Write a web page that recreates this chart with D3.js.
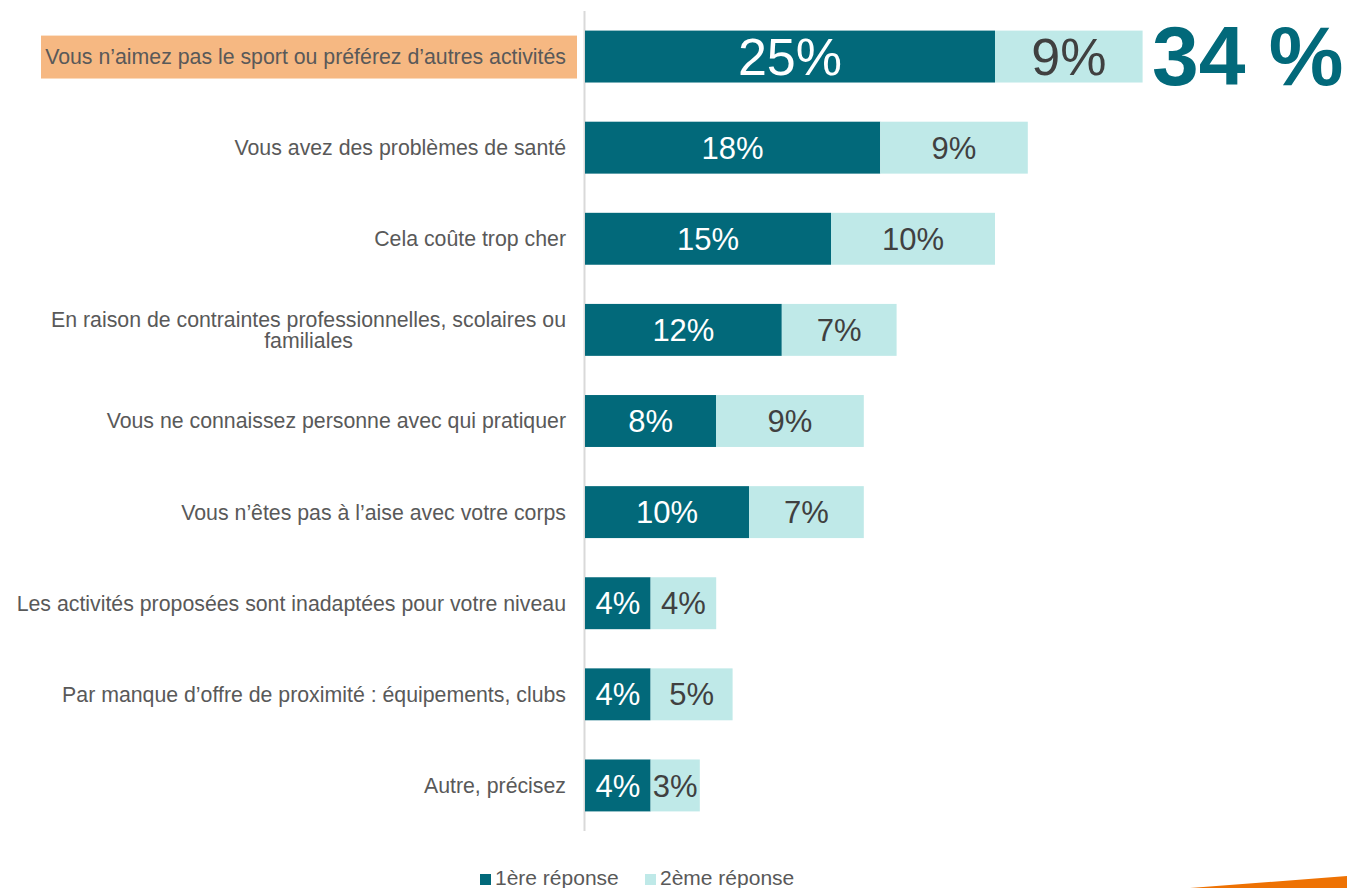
<!DOCTYPE html>
<html lang="fr">
<head>
<meta charset="utf-8">
<title>Raisons de non-pratique</title>
<script src="https://cdn.jsdelivr.net/npm/d3@7"></script>
<style>
  body { margin: 0; background: #fff; font-family: 'Liberation Sans', Arial, sans-serif; }
  svg { display: block; }
</style>
</head>
<body>
<div id="chart"></div>
<script>

/* Data */
/* ==== */

var categories = [
  ['Vous n\u2019aimez pas le sport ou préférez d\u2019autres activités'],
  ['Vous avez des problèmes de santé'],
  ['Cela coûte trop cher'],
  ['En raison de contraintes professionnelles, scolaires ou', 'familiales'],
  ['Vous ne connaissez personne avec qui pratiquer'],
  ['Vous n\u2019êtes pas à l\u2019aise avec votre corps'],
  ['Les activités proposées sont inadaptées pour votre niveau'],
  ['Par manque d\u2019offre de proximité : équipements, clubs'],
  ['Autre, précisez']
];
var first = [25, 18, 15, 12, 8, 10, 4, 4, 4];
var second = [9, 9, 10, 7, 9, 7, 4, 5, 3];
var seriesNames = ['1ère réponse', '2ème réponse'];
var highlightTotal = '34 %';

/* Setup */
/* ===== */

var width = 1347, height = 888;
var dark = '#02697a', light = '#bfe9e8';
var labelSize = '21.3px';

var svg = d3.select('#chart').append('svg')
    .attr('width', width)
    .attr('height', height);

var x = d3.scaleLinear().domain([0, 25]).range([585, 995]);
var y = d3.scaleBand()
    .domain(d3.range(categories.length))
    .range([11, 831])
    .paddingInner(0.43)
    .paddingOuter(0.215);

// highlight box behind first label
svg.append('rect')
    .attr('x', 41).attr('y', y(0) + 5)
    .attr('width', 536).attr('height', y.bandwidth() - 9)
    .attr('fill', '#f6b882');

// axis line
svg.append('line')
    .attr('x1', x(0) - 0.5).attr('x2', x(0) - 0.5)
    .attr('y1', 11).attr('y2', 831)
    .attr('stroke', '#d9d9d9').attr('stroke-width', 2);

/* Bars */
/* ==== */

var rows = svg.selectAll('g.row')
  .data(d3.range(categories.length))
  .join('g').attr('class', 'row');

rows.append('rect')
    .attr('x', x(0))
    .attr('y', function(i) { return y(i); })
    .attr('width', function(i) { return x(first[i]) - x(0); })
    .attr('height', y.bandwidth())
    .attr('fill', dark);

rows.append('rect')
    .attr('x', function(i) { return x(first[i]); })
    .attr('y', function(i) { return y(i); })
    .attr('width', function(i) { return x(first[i] + second[i]) - x(first[i]); })
    .attr('height', y.bandwidth())
    .attr('fill', light);

rows.append('text')
    .attr('x', function(i) { return (x(0) + x(first[i])) / 2; })
    .attr('y', function(i) { return y(i) + y.bandwidth() / 2; })
    .attr('dy', '0.36em')
    .attr('text-anchor', 'middle')
    .attr('fill', '#fff')
    .style('font-size', function(i) { return i === 0 ? '52px' : '31px'; })
    .text(function(i) { return first[i] + '%'; });

rows.append('text')
    .attr('x', function(i) { return (x(first[i]) + x(first[i] + second[i])) / 2; })
    .attr('y', function(i) { return y(i) + y.bandwidth() / 2; })
    .attr('dy', '0.36em')
    .attr('text-anchor', 'middle')
    .attr('fill', '#404040')
    .style('font-size', function(i) { return i === 0 ? '52px' : '31px'; })
    .text(function(i) { return second[i] + '%'; });

/* Category labels */
/* =============== */

rows.each(function(i) {
  var lines = categories[i];
  var cy = y(i) + y.bandwidth() / 2;
  var lh = 21.5;
  var top = cy - (lines.length - 1) * lh / 2;
  var g = d3.select(this);
  var t1 = g.append('text')
      .attr('x', 566).attr('y', top).attr('dy', '0.35em')
      .attr('text-anchor', 'end')
      .attr('fill', '#595959')
      .style('font-size', labelSize)
      .text(lines[0]);
  if (lines.length > 1) {
    var w = t1.node().getComputedTextLength();
    lines.slice(1).forEach(function(l, k) {
      g.append('text')
        .attr('x', 566 - w / 2).attr('y', top + (k + 1) * lh).attr('dy', '0.35em')
        .attr('text-anchor', 'middle')
        .attr('fill', '#595959')
        .style('font-size', labelSize)
        .text(l);
    });
  }
});

// big total
svg.append('text')
    .attr('x', 1152).attr('y', 85)
    .attr('fill', dark)
    .style('font-size', '84px').style('font-weight', 'bold')
    .text(highlightTotal);

/* Legend */
/* ====== */

var legend = svg.append('g');
var lx = [480, 645];
[dark, light].forEach(function(c, k) {
  legend.append('rect')
    .attr('x', lx[k]).attr('y', 874).attr('width', 11).attr('height', 11)
    .attr('fill', c);
  legend.append('text')
    .attr('x', lx[k] + 15).attr('y', 885)
    .attr('fill', '#595959')
    .style('font-size', '21px')
    .text(seriesNames[k]);
});

// orange corner
svg.append('path')
    .attr('d', 'M1190,888 L1347,876 L1347,888 Z')
    .attr('fill', '#ee7203');

</script>
</body>
</html>
